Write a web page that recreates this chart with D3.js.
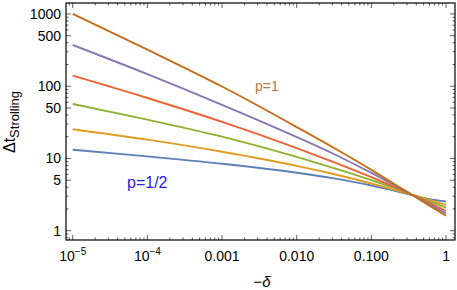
<!DOCTYPE html>
<html><head><meta charset="utf-8">
<script src="https://cdn.jsdelivr.net/npm/d3@7"></script>
<style>
html,body{margin:0;padding:0;background:#fff;}
svg{display:block;font-family:"Liberation Sans",Arial,sans-serif;}
</style></head>
<body>
<svg id="chart" width="457" height="290"></svg>
<script>
// -δ values (x)
const deltas = [1e-5, 1e-4, 1e-3, 1e-2, 0.03, 0.1, 0.2, 0.35, 0.6, 1];
// Δt_Strolling for p = 1/2 ... 1
const seriesP050 = [13.2, 10.7, 8.45, 6.34, 5.34, 4.22, 3.58, 3.12, 2.74, 2.54];
const seriesP060 = [25.4, 18.2, 12.4, 7.90, 6.14, 4.50, 3.70, 3.14, 2.66, 2.28];
const seriesP070 = [56.9, 34.5, 20.0, 10.5, 7.46, 5.01, 3.92, 3.14, 2.57, 2.08];
const seriesP080 = [140, 68.7, 32.1, 13.9, 9.03, 5.50, 4.06, 3.14, 2.42, 1.86];
const seriesP090 = [372, 147, 55.3, 19.8, 11.8, 6.30, 4.31, 3.14, 2.31, 1.73];
const seriesP100 = [1000, 321, 99, 27.2, 14.4, 6.95, 4.47, 3.14, 2.22, 1.61];
const seriesList = [seriesP050, seriesP060, seriesP070, seriesP080, seriesP090, seriesP100];
const colors = ["#5E81B5", "#E19C24", "#8FB032", "#EB6235", "#8778B3", "#C56E1A"];

const xTickValues = [1e-5, 1e-4, 1e-3, 1e-2, 1e-1, 1];
const xTickLabels = ["10^-5", "10^-4", "0.001", "0.010", "0.100", "1"];
const yTickValues = [1, 5, 10, 50, 100, 500, 1000];
const yTickLabels = ["1", "5", "10", "50", "100", "500", "1000"];

const L = 66, R = 455, T = 3, B = 240;
const x = d3.scaleLog().domain([Math.pow(10, -5.09), Math.pow(10, 0.12)]).range([L, R]);
const y = d3.scaleLog().domain([Math.pow(10, -0.129), Math.pow(10, 3.152)]).range([B, T]);

const svg = d3.select("#chart");

function minorTicks(scale) {
  const [a, b] = scale.domain();
  const out = [];
  for (let e = Math.floor(Math.log10(a)); e <= Math.ceil(Math.log10(b)); e++) {
    for (let m = 1; m <= 9; m++) {
      const v = m * Math.pow(10, e);
      if (v >= a && v <= b) out.push(v);
    }
  }
  return out;
}
const tickColor = "#333";
const xMinor = minorTicks(x).filter(v => !xTickValues.some(t => Math.abs(t - v) / t < 1e-9));
const yMinor = minorTicks(y).filter(v => !yTickValues.some(t => Math.abs(t - v) / t < 1e-9));

const g = svg.append("g").attr("stroke", tickColor).attr("stroke-width", 0.8);
function vt(data, y0, len) {
  g.append("g").selectAll("line").data(data).join("line")
    .attr("x1", d => x(d)).attr("x2", d => x(d)).attr("y1", y0).attr("y2", y0 + len);
}
function ht(data, x0, len) {
  g.append("g").selectAll("line").data(data).join("line")
    .attr("y1", d => y(d)).attr("y2", d => y(d)).attr("x1", x0).attr("x2", x0 + len);
}
vt(xMinor, B, -2.5); vt(xMinor, T, 2.5); vt(xTickValues, B, -5); vt(xTickValues, T, 5);
ht(yMinor, L, 2.5); ht(yMinor, R, -2.5); ht(yTickValues, L, 5); ht(yTickValues, R, -5);

// curves
const line = d3.line().x((d, i) => x(deltas[i])).y(d => y(d)).curve(d3.curveMonotoneX);
svg.append("g").selectAll("path").data(seriesList).join("path")
  .attr("d", d => line(d)).attr("fill", "none")
  .attr("stroke", (d, i) => colors[i]).attr("stroke-width", 1.9);

// frame
svg.append("rect").attr("x", L).attr("y", T).attr("width", R - L).attr("height", B - T)
  .attr("fill", "none").attr("stroke", "#000").attr("stroke-width", 1.2);

// tick labels
const xl = svg.append("g").attr("font-size", 14).attr("fill", "#000");
xTickValues.forEach((v, i) => {
  const lab = xTickLabels[i];
  const t = xl.append("text").attr("x", x(v)).attr("y", 261).attr("text-anchor", "middle");
  if (lab.includes("^")) {
    const [base, ex] = lab.split("^");
    t.append("tspan").text(base);
    t.append("tspan").attr("dy", -6).attr("font-size", 10).text(ex.replace("-", "\u2212"));
  } else t.text(lab);
});
const yl = svg.append("g").attr("font-size", 14).attr("fill", "#000");
yTickValues.forEach((v, i) => {
  yl.append("text").attr("x", 61).attr("y", y(v)).attr("dy", "0.36em")
    .attr("text-anchor", "end").text(yTickLabels[i]);
});

// axis titles
const xt = svg.append("text").attr("x", 262).attr("y", 287).attr("text-anchor", "middle").attr("font-size", 15);
xt.append("tspan").text("\u2212");
xt.append("tspan").attr("font-style", "italic").text("\u03b4");

const yt = svg.append("text").attr("transform", "translate(15,122) rotate(-90)")
  .attr("text-anchor", "middle").attr("font-size", 16);
yt.append("tspan").text("\u0394t");
yt.append("tspan").attr("dy", 4).attr("font-size", 13).text("Strolling");

// annotations
svg.append("text").attr("x", 255).attr("y", 91).attr("font-size", 14).attr("fill", "#B07A4E").text("p=1");
svg.append("text").attr("x", 127).attr("y", 188).attr("font-size", 16).attr("fill", "#2424E0").text("p=1/2");
</script>
</body></html>
